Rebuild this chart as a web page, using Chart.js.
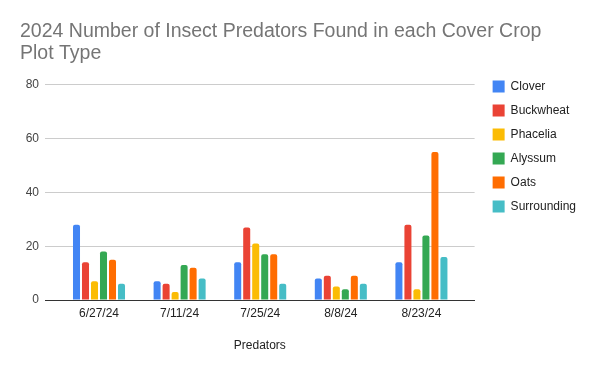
<!DOCTYPE html>
<html>
<head>
<meta charset="utf-8">
<script src="https://cdn.jsdelivr.net/npm/chart.js@4.4.1/dist/chart.umd.min.js"></script>
<style>
  html, body { margin: 0; padding: 0; background: #fff; }
  #wrap { width: 600px; height: 371px; }
</style>
</head>
<body>
<div id="wrap"><canvas id="chart"></canvas></div>
<script>
const dates = ['6/27/24', '7/11/24', '7/25/24', '8/8/24', '8/23/24'];

const clover = [28, 7, 14, 8, 14];
const buckwheat = [14, 6, 27, 9, 28];
const phacelia = [7, 3, 21, 5, 4];
const alyssum = [18, 13, 17, 4, 24];
const oats = [15, 12, 17, 9, 55];
const surrounding = [6, 8, 6, 6, 16];

const yTicks = [0, 20, 40, 60, 80];

const seriesList = [
  { label: 'Clover', values: clover, color: '#4285F4' },
  { label: 'Buckwheat', values: buckwheat, color: '#EA4335' },
  { label: 'Phacelia', values: phacelia, color: '#FBBC04' },
  { label: 'Alyssum', values: alyssum, color: '#34A853' },
  { label: 'Oats', values: oats, color: '#FF6D01' },
  { label: 'Surrounding', values: surrounding, color: '#46BDC6' },
];

const FONT = "Arial, 'Liberation Sans', sans-serif";
Chart.defaults.font.family = FONT;
Chart.defaults.font.size = 12;
Chart.defaults.color = '#222';

// nudge the legend a little to the right of the plot, like the sheets chart
const legendNudge = {
  id: 'legendNudge',
  afterLayout(chart) {
    if (chart.legend) {
      chart.legend.left += 6;
      chart.legend.right += 6;
    }
  },
};

new Chart(document.getElementById('chart'), {
  type: 'bar',
  data: {
    datasets: seriesList.map(s => ({
      label: s.label,
      data: s.values.map((v, i) => ({ x: i, y: v })),
      backgroundColor: s.color,
      borderRadius: { topLeft: 2, topRight: 2 },
      borderSkipped: 'start',
      categoryPercentage: 0.67,
      barPercentage: 0.78,
    })),
  },
  options: {
    responsive: true,
    maintainAspectRatio: false,
    animation: false,
    layout: { padding: { left: 20, right: 20, top: 0, bottom: 10 } },
    plugins: {
      title: {
        display: true,
        text: ['2024 Number of Insect Predators Found in each Cover Crop', 'Plot Type'],
        align: 'start',
        color: '#757575',
        font: { size: 19.5, weight: 'normal', lineHeight: 1.1 },
        padding: { top: 21, bottom: 21 },
      },
      legend: {
        position: 'right',
        align: 'start',
        title: {
          display: true,
          text: ' ',
          font: { size: 12 },
          padding: { top: 0, bottom: 54 },
        },
        labels: {
          boxWidth: 12,
          boxHeight: 12,
          padding: 12,
          color: '#222',
          font: { size: 12 },
        },
      },
      tooltip: { enabled: false },
    },
    scales: {
      x: {
        type: 'linear',
        offset: false,
        min: -0.67,
        max: 4.66,
        afterBuildTicks: axis => {
          axis.ticks = dates.map((d, i) => ({ value: i }));
        },
        afterFit: axis => { axis.height = 61; },
        ticks: {
          callback: v => dates[v],
          padding: 6,
          color: '#222',
          font: { size: 12 },
          maxRotation: 0,
          autoSkip: false,
        },
        grid: { display: false, drawTicks: false },
        border: { display: true, color: '#333', width: 1 },
        title: {
          display: true,
          text: 'Predators',
          color: '#222',
          font: { size: 12 },
          padding: { top: 0, bottom: 8 },
        },
      },
      y: {
        min: 0,
        max: 80,
        afterBuildTicks: axis => {
          axis.ticks = yTicks.map(v => ({ value: v }));
        },
        afterFit: axis => { axis.width = 25; },
        ticks: { padding: 6, color: '#444', font: { size: 12 } },
        grid: { color: '#ccc', drawTicks: false },
        border: { display: false },
      },
    },
  },
  plugins: [legendNudge],
});
</script>
</body>
</html>
